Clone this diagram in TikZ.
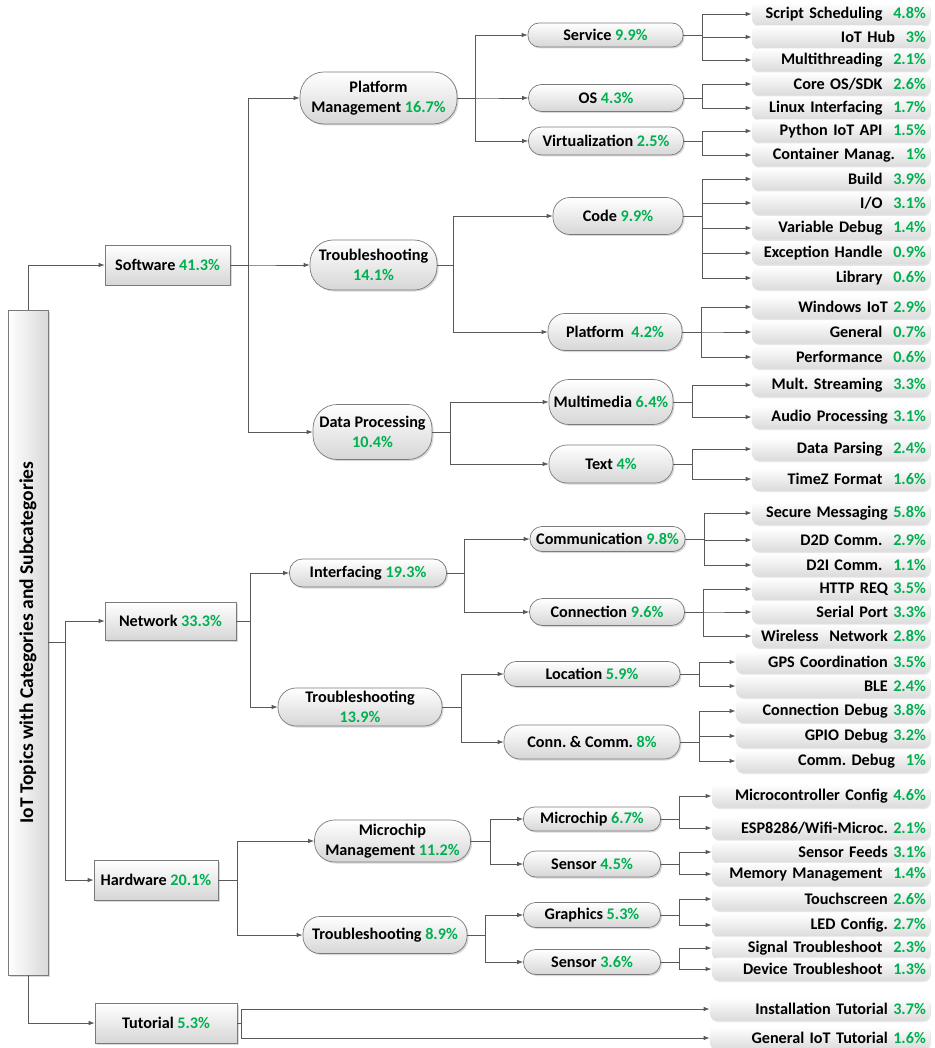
\documentclass[tikz,border=0pt]{standalone}
\usepackage{fontspec}
\setmainfont{Carlito}
\usepackage{graphicx}
\usetikzlibrary{arrows.meta, shadows, positioning}

\definecolor{pctgreen}{RGB}{0,176,80}
\definecolor{linegray}{RGB}{89,89,89}
\newcommand{\pc}[1]{{\color{pctgreen}#1\%}}

\tikzset{
  link/.style={draw=linegray, line width=0.8pt, -{Latex[length=6pt,width=4.5pt]}},
  boxbase/.style={draw=linegray!80, line width=0.7pt,
    drop shadow={shadow xshift=1.5pt, shadow yshift=-1.5pt, opacity=0.3}, inner sep=0pt, align=center},
  catbox/.style={boxbase, top color=white, bottom color=black!16},
  rootbox/.style={boxbase, left color=white, right color=black!15},
  pill/.style={catbox, rounded corners=#1},
  pill/.default=11pt,
  leaf/.style={anchor=east, text width=#1, align=right, inner xsep=4pt, inner ysep=0pt,
    minimum height=23pt, rounded corners=7pt, top color=white, bottom color=black!14,
    drop shadow={shadow xshift=1pt, shadow yshift=-1.5pt, opacity=0.2}},
}

\begin{document}
\frenchspacing
\begin{tikzpicture}[x=1pt, y=-1pt, font=\fontsize{16.2}{19.5}\selectfont\bfseries]
\useasboundingbox (0,0) rectangle (934,1048);

% Root
\node[rootbox, minimum width=40, minimum height=665, font=\fontsize{19.5}{22}\selectfont\bfseries] (root) at (28,642.5)
  {\rotatebox{90}{IoT Topics with Categories and Subcategories}};

% Categories
\node[catbox, minimum width=125, minimum height=40] (sw) at (167.5,265) {Software \pc{41.3}};
\node[catbox, minimum width=131, minimum height=38] (net) at (170.5,621) {Network \pc{33.3}};
\node[catbox, minimum width=124, minimum height=40] (hw) at (156,880) {Hardware \pc{20.1}};
\node[catbox, minimum width=142, minimum height=40] (tut) at (166,1023) {Tutorial \pc{5.3}};

\draw[link] (root.north) |- (sw.west);
\draw[link] (root.east) -- ++(17,0) |- (net.west);
\draw[link] (root.east) -- ++(17,0) |- (hw.west);
\draw[link] (root.south) |- (tut.west);

% Subcategories
\node[pill=24pt, minimum width=157, minimum height=52] (pm) at (378.5,98) {Platform\\Management \pc{16.7}};
\node[pill=23pt, minimum width=127, minimum height=50] (tsw) at (373.5,265) {Troubleshooting\\\pc{14.1}};
\node[pill=24pt, minimum width=119, minimum height=55] (dp) at (372.5,432) {Data Processing\\\pc{10.4}};
\node[pill=13pt, minimum width=157, minimum height=28] (intf) at (368,573) {Interfacing \pc{19.3}};
\node[pill=18pt, minimum width=164, minimum height=38] (tnet) at (360,707) {Troubleshooting\\\pc{13.9}};
\node[pill=20pt, minimum width=156, minimum height=42] (mmg) at (392.5,841) {Microchip\\Management \pc{11.2}};
\node[pill=17pt, minimum width=164, minimum height=37] (thw) at (385,935) {Troubleshooting \pc{8.9}};

\foreach \c in {pm,tsw,dp}
{
    \draw[link] (sw.east) -- ++(18,0) |- (\c.west);
}
\foreach \c in {intf,tnet}
{
    \draw[link] (net.east) -- ++(14,0) |- (\c.west);
}
\foreach \c in {mmg,thw}
{
    \draw[link] (hw.east) -- ++(19,0) |- (\c.west);
}

% Topics
\node[pill, minimum width=155, minimum height=24] (serv) at (605.5,35) {Service \pc{9.9}};
\node[pill=13pt, minimum width=155, minimum height=27] (os) at (606,98) {OS \pc{4.3}};
\node[pill=13pt, minimum width=155, minimum height=28] (virt) at (606,141) {Virtualization \pc{2.5}};
\node[pill=17pt, minimum width=130, minimum height=37] (code) at (618,216) {Code \pc{9.9}};
\node[pill=17pt, minimum width=134, minimum height=37] (plat) at (615,332) {Platform\ \ \pc{4.2}};
\node[pill=20pt, minimum width=124, minimum height=45] (mmed) at (611,402) {Multimedia \pc{6.4}};
\node[pill=18pt, minimum width=124, minimum height=38] (txt) at (611,464) {Text \pc{4}};
\node[pill=12pt, minimum width=155, minimum height=25] (comm) at (607.5,539) {Communication \pc{9.8}};
\node[pill=13pt, minimum width=155, minimum height=27] (conn) at (607,612) {Connection \pc{9.6}};
\node[pill=12pt, minimum width=176, minimum height=25] (loc) at (592,674) {Location \pc{5.9}};
\node[pill=16pt, minimum width=176, minimum height=34] (cc) at (592,742) {Conn. \& Comm. \pc{8}};
\node[pill, minimum width=137, minimum height=24] (mchip) at (592,819) {Microchip \pc{6.7}};
\node[pill=12pt, minimum width=137, minimum height=26] (sens) at (592,864) {Sensor \pc{4.5}};
\node[pill=12pt, minimum width=137, minimum height=25] (graph) at (592,915) {Graphics \pc{5.3}};
\node[pill=12pt, minimum width=137, minimum height=25] (sensb) at (592,962) {Sensor \pc{3.6}};

\foreach \c in {serv,os,virt}
{
    \draw[link] (pm.east) -- ++(18,0) |- (\c.west);
}
\foreach \c in {code,plat}
{
    \draw[link] (tsw.east) -- ++(16,0) |- (\c.west);
}
\foreach \c in {mmed,txt}
{
    \draw[link] (dp.east) -- ++(18,0) |- (\c.west);
}
\foreach \c in {comm,conn}
{
    \draw[link] (intf.east) -- ++(18,0) |- (\c.west);
}
\foreach \c in {loc,cc}
{
    \draw[link] (tnet.east) -- ++(19,0) |- (\c.west);
}
\foreach \c in {mchip,sens}
{
    \draw[link] (mmg.east) -- ++(20,0) |- (\c.west);
}
\foreach \c in {graph,sensb}
{
    \draw[link] (thw.east) -- ++(18,0) |- (\c.west);
}

% Leaves, Software
\foreach \p/\w/\list in {
    serv/170/{s1/14/{Script Scheduling\ }/4.8, s2/37/{IoT Hub\ }/3, s3/60/{Multithreading\ }/2.1},
    os/170/{o1/84/{Core OS/SDK\ }/2.6, o2/108/{Linux Interfacing\ }/1.7},
    virt/170/{v1/131/{Python IoT API\ }/1.5, v2/155/{Container Manag.\ }/1},
    code/170/{c1/179/{Build\ }/3.9, c2/203/{I/O\ }/3.1, c3/228/{Variable Debug\ }/1.4, c4/253/{Exception Handle\ }/0.9, c5/278/{Library\ }/0.6},
    plat/170/{p1/307/{Windows IoT}/2.9, p2/332/{General\ }/0.7, p3/357/{Performance\ }/0.6},
    mmed/170/{m1/385/{Mult. Streaming\ }/3.3, m2/417/{Audio Processing}/3.1},
    txt/170/{t1/449/{Data Parsing\ }/2.4, t2/479/{TimeZ Format\ }/1.6},
% Leaves, Network
    comm/170/{cm1/513/{Secure Messaging}/5.8, cm2/540/{D2D Comm.\ }/2.9, cm3/565/{D2I Comm.\ }/1.1},
    conn/170/{cn1/589/{HTTP REQ}/3.5, cn2/612/{Serial Port}/3.3, cn3/636/{Wireless\ \ Network}/2.8},
    loc/186/{l1/662/{GPS Coordination}/3.5, l2/686/{BLE}/2.4},
    cc/186/{cc1/711/{Connection Debug}/3.8, cc2/736/{GPIO Debug}/3.2, cc3/761/{Comm. Debug\ }/1},
% Leaves, Hardware
    mchip/210/{mc1/796/{Microcontroller Config}/4.6, mc2/828/{ESP8286/Wifi-Microc.}/2.1},
    sens/210/{se1/852/{Sensor Feeds}/3.1, se2/874/{Memory Management\ }/1.4},
    graph/210/{g1/899/{Touchscreen}/2.6, g2/925/{LED Config.}/2.7},
    sensb/210/{sd1/948/{Signal Troubleshoot\ }/2.3, sd2/969/{Device Troubleshoot\ }/1.3}}
{
    \foreach \nm/\yy/\lab/\pct in \list
    {
        \node[leaf=\w pt] (\nm) at (930,\yy) {\lab\ \pc{\pct}};
        \draw[link] (\p.east) -- ++(19,0) |- (\nm.west);
    }
}

% Leaves, Tutorial
\foreach \nm/\yy/\lab/\pct in {tu1/1009/{Installation Tutorial}/3.7, tu2/1038/{General IoT Tutorial}/1.6}
{
    \node[leaf=212pt] (\nm) at (930,\yy) {\lab\ \pc{\pct}};
    \draw[link] (tut.east) -- ++(4,0) |- (\nm.west);
}

\end{tikzpicture}
\end{document}
